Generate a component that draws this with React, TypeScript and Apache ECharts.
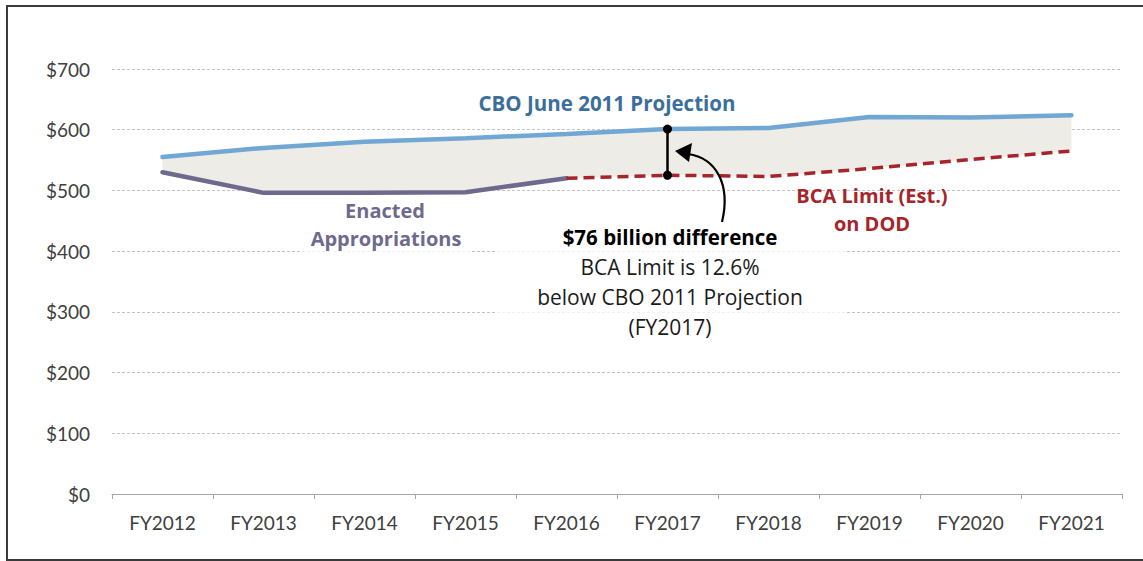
import React, { useEffect, useRef } from "react";
import * as echarts from "echarts";

const categories = ["FY2012", "FY2013", "FY2014", "FY2015", "FY2016", "FY2017", "FY2018", "FY2019", "FY2020", "FY2021"];
const cboProjection = [555, 570, 580, 586, 593, 601, 603, 621, 620, 624];
const enacted: (number | null)[] = [530, 496, 496, 497, 520, null, null, null, null, null];
const bcaLimit: (number | null)[] = [null, null, null, null, 520, 525, 523, 536, 551, 565];
const yTicks = { min: 0, max: 700, interval: 100 };
const focusIndex = 5;

const FONT = "Lato, 'Open Sans', sans-serif";
const LABEL_FONT = "'Open Sans', Lato, sans-serif";

function label(text: string, x: number, y: number, fill: string, font: string) {
  return {
    type: "text",
    x,
    y,
    style: { text, fill, font, align: "center", verticalAlign: "middle" },
    z: 20,
  };
}

export default function App() {
  const ref = useRef<HTMLDivElement>(null);
  useEffect(() => {
    if (!ref.current) return;
    const chart = echarts.init(ref.current, null, { renderer: "svg" });
    const lower = categories.map((_, i) => (enacted[i] != null ? (enacted[i] as number) : (bcaLimit[i] as number)));
    const gap = cboProjection.map((v, i) => v - lower[i]);
    const focusCat = categories[focusIndex];
    const bold = `bold 20.5px ${LABEL_FONT}`;
    const boldSmall = `bold 20px ${LABEL_FONT}`;
    const regular = `21px ${LABEL_FONT}`;
    const option: any = {
      animation: false,
      backgroundColor: "#ffffff",
      textStyle: { fontFamily: FONT },
      grid: { left: 112, right: 21, top: 69, bottom: 67 },
      xAxis: {
        type: "category",
        data: categories,
        boundaryGap: true,
        axisLine: { lineStyle: { color: "#A6A6A6", width: 1 } },
        axisTick: { show: true, length: 5, lineStyle: { color: "#A6A6A6" } },
        axisLabel: { color: "#404040", fontSize: 19, margin: 19, fontFamily: FONT },
        splitLine: { show: false },
      },
      yAxis: {
        type: "value",
        min: yTicks.min,
        max: yTicks.max,
        interval: yTicks.interval,
        axisLine: { show: false },
        axisTick: { show: false },
        axisLabel: { color: "#404040", fontSize: 19, margin: 22, fontFamily: FONT, formatter: (v: number) => "$" + v },
        splitLine: { lineStyle: { color: "#C4C4C4", type: [3, 2], width: 1 } },
      },
      series: [
        {
          type: "line",
          stack: "gap",
          data: lower,
          symbol: "none",
          lineStyle: { width: 0, opacity: 0 },
          silent: true,
          z: 1,
        },
        {
          type: "line",
          stack: "gap",
          data: gap,
          symbol: "none",
          lineStyle: { width: 0, opacity: 0 },
          areaStyle: { color: "#EDECE6", opacity: 1 },
          silent: true,
          z: 1,
        },
        {
          name: "CBO June 2011 Projection",
          type: "line",
          data: cboProjection,
          symbol: "none",
          lineStyle: { color: "#71A7D4", width: 4.5, cap: "round" },
          z: 3,
        },
        {
          name: "Enacted Appropriations",
          type: "line",
          data: enacted,
          symbol: "none",
          lineStyle: { color: "#6E6A8E", width: 4.5, cap: "round" },
          z: 3,
        },
        {
          name: "BCA Limit (Est.) on DOD",
          type: "line",
          data: bcaLimit,
          symbol: "none",
          lineStyle: { color: "#A5252B", width: 3.5, type: [11, 6] },
          z: 3,
        },
        {
          type: "line",
          data: [
            [focusCat, cboProjection[focusIndex]],
            [focusCat, bcaLimit[focusIndex]],
          ],
          symbol: "circle",
          symbolSize: 9,
          showSymbol: true,
          itemStyle: { color: "#000000" },
          lineStyle: { color: "#000000", width: 2.5 },
          z: 5,
        },
      ],
      graphic: [
        {
          type: "rect",
          shape: { x: 7, y: 6, width: 1142, height: 554 },
          style: { fill: "none", stroke: "#3A3A3A", lineWidth: 2 },
          silent: true,
          z: 100,
        },
        {
          type: "rect",
          shape: { x: 300, y: 198, width: 170, height: 54 },
          style: { fill: "rgba(255,255,255,0.75)" },
          silent: true,
          z: 10,
        },
        {
          type: "rect",
          shape: { x: 495, y: 226, width: 350, height: 114 },
          style: { fill: "rgba(255,255,255,0.75)" },
          silent: true,
          z: 10,
        },
        label("CBO June 2011 Projection", 607, 103, "#3C6E9C", bold),
        label("Enacted", 385, 210, "#6E6A8E", boldSmall),
        label("Appropriations", 386, 238, "#6E6A8E", boldSmall),
        label("BCA Limit (Est.)", 872, 195, "#A5252B", boldSmall),
        label("on DOD", 872, 223, "#A5252B", boldSmall),
        label("$76 billion difference", 670, 237, "#000000", bold),
        label("BCA Limit is 12.6%", 670, 267, "#1A1A1A", regular),
        label("below CBO 2011 Projection", 670, 297, "#1A1A1A", regular),
        label("(FY2017)", 670, 327, "#1A1A1A", regular),
        {
          type: "bezierCurve",
          shape: { x1: 722, y1: 222, cpx1: 731, cpy1: 184, cpx2: 716, cpy2: 158, x2: 688, y2: 154 },
          style: { stroke: "#000000", lineWidth: 2.2, fill: "none" },
          z: 20,
        },
        {
          type: "polygon",
          shape: { points: [[675, 151], [692, 143], [689, 162]] },
          style: { fill: "#000000" },
          z: 20,
        },
      ],
    };
    chart.setOption(option);
    return () => chart.dispose();
  }, []);
  return <div ref={ref} style={{ position: "fixed", left: 0, top: 0, width: 1143, height: 561 }} />;
}
